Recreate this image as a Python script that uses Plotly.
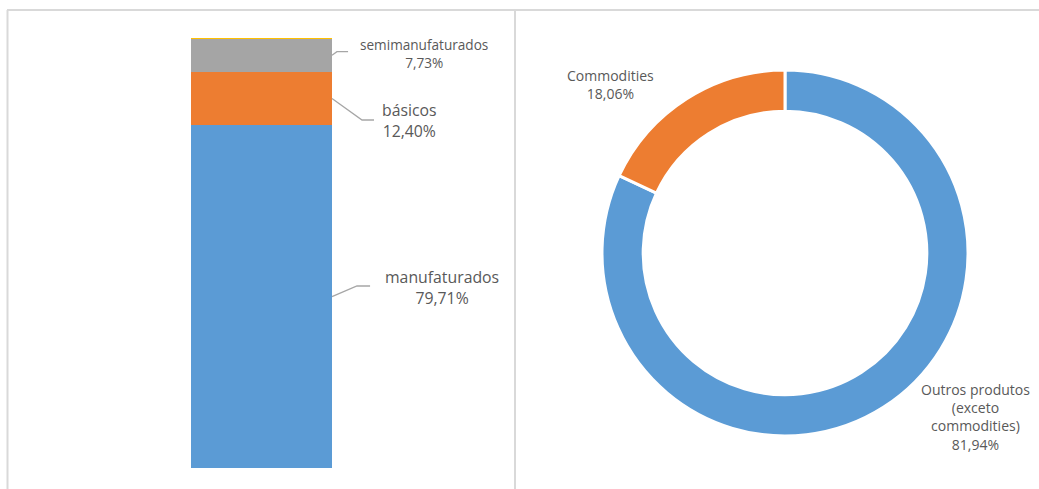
import plotly.graph_objects as go

# Composição das exportações por fator agregado (%)
bar_categories = ["manufaturados", "básicos", "semimanufaturados", "outros"]
bar_values = [79.71, 12.40, 7.73, 0.16]
bar_colors = ["#5b9bd5", "#ed7d31", "#a5a5a5", "#ffc000"]

# Commodities x demais produtos (%)
donut_labels = ["Outros produtos (exceto commodities)", "Commodities"]
donut_values = [81.94, 18.06]
donut_colors = ["#5b9bd5", "#ed7d31"]

W, H = 1039, 489
TXT = "#595959"
FONT = "Open Sans"


def pct(v):
    return f"{v:.2f}".replace(".", ",") + "%"


fig = go.Figure()

# Stacked single-column bar
for name, val, col in zip(bar_categories, bar_values, bar_colors):
    fig.add_trace(go.Bar(
        x=[0], y=[val], name=name, width=1,
        marker=dict(color=col, line=dict(width=0)),
        xaxis="x", yaxis="y", showlegend=False, hoverinfo="skip",
    ))

# Doughnut
fig.add_trace(go.Pie(
    labels=donut_labels, values=donut_values, hole=0.775,
    sort=False, direction="clockwise", rotation=0,
    marker=dict(colors=donut_colors, line=dict(color="white", width=3)),
    textinfo="none", showlegend=False, hoverinfo="skip",
    domain=dict(x=[602 / W, 968 / W], y=[1 - 436 / H, 1 - 70 / H]),
))

# Cumulative midpoints of each bar segment (leader line anchors)
cum = 0
mids = []
for v in bar_values:
    mids.append(cum + v / 2)
    cum += v

# Label placement for the three labelled bar segments: (elbow x, elbow y, end x, label x, label y, font size)
bar_label_layout = [
    (0.677, 42.33, 0.77, 1.28, 41.9, 15.8),
    (0.713, 80.93, 0.798, 1.053, 80.8, 15.8),
    (0.535, 96.81, 0.614, 1.152, 96.4, 13.6),
]

annotations = []
shapes = []
for i, (ex, ey, endx, lx, ly, fs) in enumerate(bar_label_layout):
    shapes.append(dict(
        type="path", xref="x", yref="y",
        path=f"M 0.5 {mids[i]} L {ex} {ey} L {endx} {ey}",
        line=dict(color="#a6a6a6", width=1.3),
    ))
    annotations.append(dict(
        xref="x", yref="y", x=lx, y=ly, showarrow=False,
        text=f"{bar_categories[i]}<br>{pct(bar_values[i])}",
        font=dict(family=FONT, size=fs, color=TXT),
        xanchor="center", yanchor="middle", align="center",
    ))

annotations.append(dict(
    xref="paper", yref="paper", x=610 / W, y=1 - 84 / H, showarrow=False,
    text=f"Commodities<br>{pct(donut_values[1])}",
    font=dict(family=FONT, size=14, color=TXT),
    xanchor="center", yanchor="middle", align="center",
))
annotations.append(dict(
    xref="paper", yref="paper", x=975 / W, y=1 - 416.5 / H, showarrow=False,
    text=f"Outros produtos<br>(exceto<br>commodities)<br>{pct(donut_values[0])}",
    font=dict(family=FONT, size=14, color=TXT),
    xanchor="center", yanchor="middle", align="center",
))

# Frame lines around the two panels
frame = "#d9d9d9"
for x0, y0, x1, y1 in [(7, 10, W, 10), (7.5, 10, 7.5, H), (515, 10, 515, H)]:
    shapes.append(dict(
        type="line", xref="paper", yref="paper",
        x0=x0 / W, x1=x1 / W, y0=1 - y0 / H, y1=1 - y1 / H,
        line=dict(color=frame, width=2),
    ))

# x axis spans the bar plus the label area to its right (bar stays 141 px wide)
x_right = 0.5 + (512 - 332) / 141

fig.update_layout(
    width=W, height=H,
    margin=dict(l=0, r=0, t=0, b=0),
    paper_bgcolor="white", plot_bgcolor="rgba(0,0,0,0)",
    barmode="stack",
    xaxis=dict(domain=[191 / W, 512 / W], range=[-0.5, x_right], visible=False, fixedrange=True),
    yaxis=dict(domain=[1 - 468 / H, 1 - 38 / H], range=[0, 100], visible=False, fixedrange=True),
    annotations=annotations,
    shapes=shapes,
    font=dict(family=FONT, color=TXT),
)

fig.write_html("out.html")
